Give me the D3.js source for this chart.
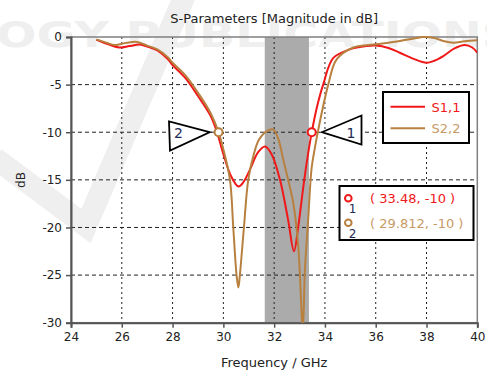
<!DOCTYPE html>
<html><head><meta charset="utf-8">
<script src="https://cdn.jsdelivr.net/npm/d3@7"></script>
<style>
html,body{margin:0;padding:0;background:#fff;}
text{font-family:"DejaVu Sans",Verdana,sans-serif;}
</style></head>
<body><svg id="c" width="487" height="371"></svg>
<script>
// ---- data ----
const xTicks = [24,26,28,30,32,34,36,38,40];
const yTicks = [0,-5,-10,-15,-20,-25,-30];
const seriesNames = ["S1,1","S2,2"];
const s11Freq = [25.0,25.5,25.9,26.3,26.7,27.0,27.4,27.8,28.0,28.5,29.0,29.5,29.75,30.0,30.3,30.59,30.8,31.05,31.37,31.64,31.9,32.23,32.55,32.78,32.95,33.15,33.34,33.48,33.7,33.93,34.33,34.98,35.64,36.0,36.5,36.95,37.5,38.0,38.3,38.66,39.1,39.5,39.8,40.0];
const s11dB   = [-0.3,-0.8,-1.1,-0.95,-0.8,-1.0,-1.4,-2.3,-2.95,-4.3,-6.2,-8.3,-10.0,-12.3,-14.6,-15.7,-15.2,-13.9,-12.1,-11.5,-12.3,-15.0,-19.2,-22.5,-19.9,-15.7,-12.2,-10.0,-7.2,-5.0,-2.2,-1.3,-0.95,-0.9,-1.15,-1.65,-2.3,-2.7,-2.5,-2.0,-1.2,-0.84,-1.1,-1.65];
const s22Freq = [25.0,25.4,25.73,26.2,26.6,27.0,27.4,27.8,28.0,28.5,29.0,29.5,29.812,30.0,30.26,30.39,30.52,30.59,30.65,30.81,30.98,31.2,31.4,31.7,31.95,32.15,32.36,32.55,32.75,32.95,33.08,33.12,33.16,33.21,33.34,33.47,33.6,33.74,34.13,34.46,35.12,36.03,36.95,37.5,37.87,38.3,38.7,39.05,39.5,40.0];
const s22dB   = [-0.25,-0.6,-0.84,-0.6,-0.52,-0.9,-1.3,-2.1,-2.7,-4.0,-5.85,-8.0,-10.0,-11.8,-15,-20,-25,-26.3,-25,-20,-15,-12.3,-10.8,-9.9,-9.7,-10.6,-12.9,-15,-17.4,-22,-29,-31,-29,-24.5,-19.2,-13.9,-11.7,-9.7,-5.0,-2.35,-1.1,-0.77,-0.42,-0.15,0.0,-0.1,-0.45,-0.6,-0.45,-0.35];
const band = [31.63,33.37];
const markerIds = ["1","2"];
const markerFreq = [33.48,29.812];
const markerdB = [-10,-10];
const markerText = ["( 33.48, -10 )","( 29.812, -10 )"];

const colors = {s11:"#f01818", s22:"#b8803f", s22txt:"#c89a66", navy:"#1d2b55"};

const svg = d3.select("#c");
const L=71, R=477.3, T=37, B=322.7;
const x = d3.scaleLinear().domain([24,40]).range([L,R]);
const y = d3.scaleLinear().domain([0,-30]).range([T,B]);

// watermark
const wm = svg.append("g");
wm.append("path").attr("d","M-5,158 L86,226 L185,-5").attr("fill","none")
  .attr("stroke","#efefef").attr("stroke-width",22).attr("stroke-linejoin","miter");
wm.append("text").attr("x",-4).attr("y",47).attr("textLength",520).attr("lengthAdjust","spacingAndGlyphs")
  .attr("font-size",36).attr("font-weight","bold").attr("fill","#efefef").text("OGY PUBLICATIONS");

// band
svg.append("rect").attr("x",x(band[0])).attr("y",T).attr("width",x(band[1])-x(band[0])).attr("height",B-T).attr("fill","#ababab");

// grid
const g = svg.append("g");
xTicks.slice(1,-1).forEach(t=>{
  g.append("line").attr("x1",x(t)).attr("x2",x(t)).attr("y1",T).attr("y2",B)
   .attr("stroke","#222").attr("stroke-width",1).attr("stroke-dasharray","2,3");
});
yTicks.slice(1,-1).forEach(t=>{
  g.append("line").attr("x1",L).attr("x2",R).attr("y1",y(t)).attr("y2",y(t))
   .attr("stroke","#222").attr("stroke-width",1).attr("stroke-dasharray","4,3");
});

// frame
svg.append("rect").attr("x",L).attr("y",T).attr("width",R-L).attr("height",B-T).attr("fill","none").attr("stroke","#808080").attr("stroke-width",1.5);

// axes
const fmt = d=>String(d);
const xa = svg.append("g").attr("transform",`translate(0,${B})`).call(d3.axisBottom(x).tickValues(xTicks).tickFormat(fmt).tickSize(5).tickPadding(5));
const ya = svg.append("g").attr("transform",`translate(${L},0)`).call(d3.axisLeft(y).tickValues(yTicks).tickFormat(fmt).tickSize(5).tickPadding(4));
[xa,ya].forEach(a=>{
  a.selectAll("path").attr("stroke","#555").attr("stroke-width",2);
  a.selectAll("line").attr("stroke","#555").attr("stroke-width",1.5);
  a.selectAll("text").attr("font-size",12).attr("fill","#222").attr("font-family","DejaVu Sans");
});

// curves
svg.append("clipPath").attr("id","clip").append("rect").attr("x",L).attr("y",T-3).attr("width",R-L).attr("height",B-T+3);
const line = d3.line().x(d=>x(d[0])).y(d=>y(d[1])).curve(d3.curveCatmullRom.alpha(0.5));
const d11 = s11Freq.map((f,i)=>[f,s11dB[i]]);
const d22 = s22Freq.map((f,i)=>[f,s22dB[i]]);
const cg = svg.append("g").attr("clip-path","url(#clip)");
cg.append("path").attr("d",line(d11)).attr("fill","none").attr("stroke",colors.s11).attr("stroke-width",2);
cg.append("path").attr("d",line(d22)).attr("fill","none").attr("stroke",colors.s22).attr("stroke-width",2);

// markers on curves
const mcol=[colors.s11,colors.s22];
markerFreq.forEach((f,i)=>{
  svg.append("circle").attr("cx",x(f)).attr("cy",y(markerdB[i])).attr("r",4).attr("fill","#fff").attr("stroke",mcol[i]).attr("stroke-width",2);
});
// marker flags
const tip1=[x(markerFreq[0])+10, y(markerdB[0])];
svg.append("path").attr("d",`M${tip1[0]},${tip1[1]} L361.5,115.5 L361.5,144.5 Z`).attr("fill","#fff").attr("stroke","#000").attr("stroke-width",1.8);
svg.append("text").attr("x",351).attr("y",138).attr("text-anchor","middle").attr("font-size",14).attr("fill",colors.navy).text(markerIds[0]);
const tip2=[x(markerFreq[1])-9, y(markerdB[1])];
svg.append("path").attr("d",`M${tip2[0]},${tip2[1]} L169,121.5 L170,150.5 Z`).attr("fill","#fff").attr("stroke","#000").attr("stroke-width",1.8);
svg.append("text").attr("x",178.5).attr("y",138).attr("text-anchor","middle").attr("font-size",14).attr("fill",colors.navy).text(markerIds[1]);

// title & labels
svg.append("text").attr("x",(L+R)/2).attr("y",23).attr("text-anchor","middle").attr("font-size",13).attr("fill","#222").text("S-Parameters [Magnitude in dB]");
svg.append("text").attr("x",(L+R)/2).attr("y",367).attr("text-anchor","middle").attr("font-size",13).attr("fill","#222").text("Frequency / GHz");
svg.append("text").attr("transform","translate(25,180) rotate(-90)").attr("text-anchor","middle").attr("font-size",12).attr("fill","#222").text("dB");

// legend
const lg = svg.append("g");
lg.append("rect").attr("x",383).attr("y",92).attr("width",86).attr("height",51).attr("fill","#fff").attr("stroke","#000").attr("stroke-width",2);
const legCols=[colors.s11,colors.s22], legTxt=[colors.s11,colors.s22txt];
seriesNames.forEach((n,i)=>{
  const yy = 106.7 + i*21.6;
  lg.append("line").attr("x1",390.5).attr("x2",425).attr("y1",yy).attr("y2",yy).attr("stroke",legCols[i]).attr("stroke-width",2);
  lg.append("text").attr("x",431.5).attr("y",yy+5).attr("font-size",13).attr("fill",legTxt[i]).text(n);
});

// marker info box
const mb = svg.append("g");
mb.append("rect").attr("x",339.5).attr("y",186).attr("width",134).attr("height",54).attr("fill","#fff").attr("stroke","#000").attr("stroke-width",2);
const mtCols=[colors.s11,colors.s22txt];
markerText.forEach((t,i)=>{
  const yy = 198.3 + i*24.4;
  mb.append("circle").attr("cx",348.3).attr("cy",yy).attr("r",3.3).attr("fill","#fff").attr("stroke",mcol[i]).attr("stroke-width",2);
  mb.append("text").attr("x",352.5).attr("y",yy+15).attr("text-anchor","middle").attr("font-size",12).attr("fill",colors.navy).text(markerIds[i]);
  mb.append("text").attr("x",370).attr("y",yy+4.8).attr("font-size",13).attr("fill",mtCols[i]).text(t);
});
</script></body></html>
